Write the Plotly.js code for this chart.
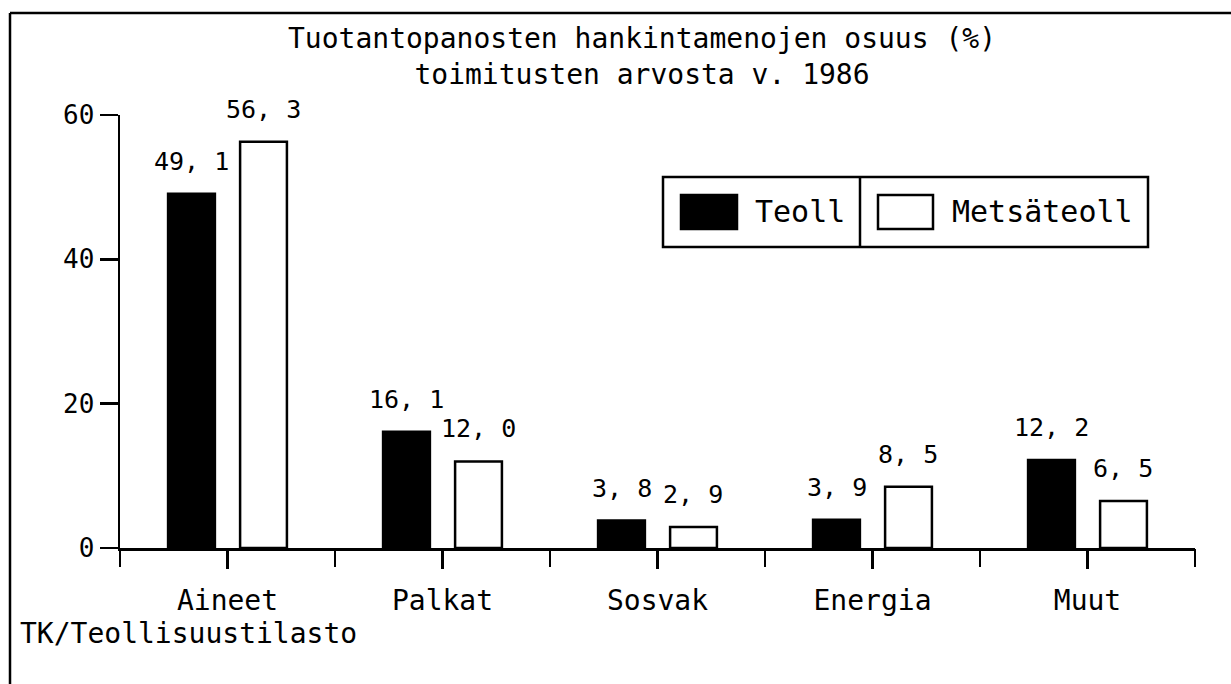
<!DOCTYPE html>
<html>
<head>
<meta charset="utf-8">
<script src="https://cdn.plot.ly/plotly-3.0.1.min.js"></script>
<style>html,body{margin:0;padding:0;background:#fff;}</style>
</head>
<body>
<div id="chart" style="width:1231px;height:684px;"></div>
<script>
// ---- data ----
const categories = ['Aineet', 'Palkat', 'Sosvak', 'Energia', 'Muut'];
const seriesNames = ['Teoll', 'Metsäteoll'];
const teoll = [49.1, 16.1, 3.8, 3.9, 12.2];
const metsateoll = [56.3, 12.0, 2.9, 8.5, 6.5];
const yTicks = [0, 20, 40, 60];
const titleText = 'Tuotantopanosten hankintamenojen osuus (%)<br>toimitusten arvosta v. 1986';
const sourceText = 'TK/Teollisuustilasto';

// ---- layout helpers ----
const W = 1231, H = 684;
const M = {l: 120, r: 36, t: 115, b: 136};
const PW = W - M.l - M.r, PH = H - M.t - M.b;
const px = x => (x - M.l) / PW;
const py = y => (H - M.b - y) / PH;
const FONT = 'DejaVu Sans Mono, Liberation Mono, monospace';
const fmt = v => v.toFixed(1).replace('.', ', ');
const LW = 2.5;

const traces = [
  {type: 'bar', name: seriesNames[0], x: categories, y: teoll,
   marker: {color: '#000', line: {color: '#000', width: LW}}, hoverinfo: 'skip'},
  {type: 'bar', name: seriesNames[1], x: categories, y: metsateoll,
   marker: {color: '#fff', line: {color: '#000', width: LW}}, hoverinfo: 'skip'},
  {type: 'scatter', mode: 'markers', x: categories, y: categories.map(() => 0),
   xaxis: 'x2', yaxis: 'y', marker: {opacity: 0}, showlegend: false, hoverinfo: 'skip'}
];

const off = 0.167;
const annotations = [];
[teoll, metsateoll].forEach((arr, s) => {
  arr.forEach((v, i) => {
    annotations.push({x: i + (s === 0 ? -off : off), y: v, xref: 'x', yref: 'y',
      text: fmt(v), showarrow: false, yanchor: 'bottom', xanchor: 'center', yshift: 16,
      font: {family: FONT, size: 25, color: '#000'}});
  });
});
annotations.push({x: px(18), y: py(633), xref: 'paper', yref: 'paper', xanchor: 'left', yanchor: 'middle',
  text: sourceText, showarrow: false, font: {family: FONT, size: 28, color: '#000'}});
// legend texts
annotations.push({x: px(753), y: py(212), xref: 'paper', yref: 'paper', xanchor: 'left', yanchor: 'middle',
  text: seriesNames[0], showarrow: false, font: {family: FONT, size: 30, color: '#000'}});
annotations.push({x: px(950), y: py(212), xref: 'paper', yref: 'paper', xanchor: 'left', yanchor: 'middle',
  text: seriesNames[1], showarrow: false, font: {family: FONT, size: 30, color: '#000'}});

const line = {color: '#000', width: LW};
const shapes = [
  // frame (left and top)
  {type: 'line', xref: 'paper', yref: 'paper', x0: px(10), x1: px(10), y0: py(13), y1: py(H), line},
  {type: 'line', xref: 'paper', yref: 'paper', x0: px(10), x1: px(W), y0: py(13), y1: py(13), line},
  // legend box
  {type: 'rect', xref: 'paper', yref: 'paper', x0: px(663), x1: px(1148), y0: py(247), y1: py(177), line, fillcolor: 'rgba(0,0,0,0)'},
  {type: 'line', xref: 'paper', yref: 'paper', x0: px(860), x1: px(860), y0: py(247), y1: py(177), line},
  {type: 'rect', xref: 'paper', yref: 'paper', x0: px(681), x1: px(737), y0: py(229), y1: py(195), line, fillcolor: '#000'},
  {type: 'rect', xref: 'paper', yref: 'paper', x0: px(878), x1: px(933), y0: py(229), y1: py(195), line, fillcolor: '#fff'}
];

const layout = {
  width: W, height: H,
  margin: M,
  paper_bgcolor: '#fff', plot_bgcolor: '#fff',
  showlegend: false,
  barmode: 'group', bargap: 0.33, bargroupgap: 0.35,
  title: {text: titleText, font: {family: FONT, size: 28, color: '#000'},
          x: 642 / W, xanchor: 'center', xref: 'container', y: 1 - 48 / H, yanchor: 'top', yref: 'container'},
  xaxis: {type: 'category', categoryarray: categories, range: [-0.5, categories.length - 0.5],
          showline: true, linecolor: '#000', linewidth: LW, showgrid: false, zeroline: false,
          ticks: 'outside', ticklen: 18, tickwidth: LW, tickcolor: '#000', ticklabelstandoff: 8,
          tickfont: {family: FONT, size: 28, color: '#000'}, fixedrange: true},
  xaxis2: {type: 'category', categoryarray: categories, overlaying: 'x', anchor: 'y',
           range: [-0.5, categories.length - 0.5], tickson: 'boundaries',
           showline: false, showgrid: false, zeroline: false, showticklabels: false,
           ticks: 'outside', ticklen: 18, tickwidth: LW, tickcolor: '#000', side: 'bottom'},
  yaxis: {range: [0, 60], tickvals: yTicks, ticktext: yTicks.map(String),
          showline: true, linecolor: '#000', linewidth: LW, showgrid: false, zeroline: false,
          ticks: 'outside', ticklen: 18, tickwidth: LW, tickcolor: '#000',
          tickfont: {family: FONT, size: 26, color: '#000'}, fixedrange: true},
  annotations, shapes,
  font: {family: FONT, color: '#000'}
};

Plotly.newPlot('chart', traces, layout, {displayModeBar: false, staticPlot: true});
</script>
</body>
</html>
